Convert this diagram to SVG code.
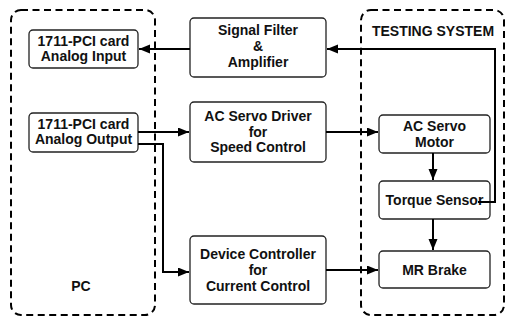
<svg xmlns="http://www.w3.org/2000/svg" width="506" height="320" viewBox="0 0 506 320">
  <defs>
    <marker id="arrow" markerUnits="userSpaceOnUse" markerWidth="12" markerHeight="10" refX="11" refY="4.5" orient="auto">
      <path d="M0,0 L11,4.5 L0,9 z" fill="#000"/>
    </marker>
    <style>
      .frame { fill: none; stroke: #000; stroke-width: 2; stroke-dasharray: 7 4.5; }
      .box { fill: #fff; stroke: #222; stroke-width: 1.3; }
      .lbl { font-family: "Liberation Sans", Arial, sans-serif; font-weight: bold; font-size: 14px; fill: #111; text-anchor: middle; }
      .wire { fill: none; stroke: #000; stroke-width: 2; }
    </style>
  </defs>
  <rect width="506" height="320" fill="#fff"/>

  <!-- subsystem frames -->
  <g id="pc">
    <rect class="frame" x="11" y="10" width="144" height="305" rx="10"/>
    <text class="lbl" x="81" y="291">PC</text>
  </g>
  <g id="testing-system">
    <rect class="frame" x="361" y="10" width="143" height="305" rx="10"/>
    <text class="lbl" x="433" y="36">TESTING SYSTEM</text>
  </g>

  <!-- PC side -->
  <g id="analog-input">
    <rect class="box" x="29" y="30" width="109" height="38" rx="4"/>
    <text class="lbl" x="83.5" y="46">1711-PCI card</text>
    <text class="lbl" x="83.5" y="61">Analog Input</text>
  </g>
  <g id="analog-output">
    <rect class="box" x="29" y="113" width="109" height="39" rx="4"/>
    <text class="lbl" x="83.5" y="129">1711-PCI card</text>
    <text class="lbl" x="83.5" y="144">Analog Output</text>
  </g>

  <!-- middle column -->
  <g id="signal-filter">
    <rect class="box" x="190" y="18" width="136" height="59" rx="4"/>
    <text class="lbl" x="258" y="35">Signal Filter</text>
    <text class="lbl" x="258" y="51">&amp;</text>
    <text class="lbl" x="258" y="67">Amplifier</text>
  </g>
  <g id="servo-driver">
    <rect class="box" x="190" y="102" width="136" height="60" rx="4"/>
    <text class="lbl" x="258" y="121">AC Servo Driver</text>
    <text class="lbl" x="258" y="137">for</text>
    <text class="lbl" x="258" y="152">Speed Control</text>
  </g>
  <g id="device-controller">
    <rect class="box" x="190" y="236" width="136" height="68" rx="4"/>
    <text class="lbl" x="258" y="259">Device Controller</text>
    <text class="lbl" x="258" y="275">for</text>
    <text class="lbl" x="258" y="291">Current Control</text>
  </g>

  <!-- testing system -->
  <g id="servo-motor">
    <rect class="box" x="379" y="115" width="111" height="38" rx="4"/>
    <text class="lbl" x="434.5" y="131">AC Servo</text>
    <text class="lbl" x="434.5" y="147">Motor</text>
  </g>
  <g id="torque-sensor">
    <rect class="box" x="379" y="181" width="111" height="38" rx="4"/>
    <text class="lbl" x="434.5" y="205">Torque Sensor</text>
  </g>
  <g id="mr-brake">
    <rect class="box" x="379" y="251" width="111" height="37" rx="4"/>
    <text class="lbl" x="434.5" y="275">MR Brake</text>
  </g>

  <!-- connectors, drawn last so the feedback tap shows over the sensor box -->
  <g id="connectors">
    <line class="wire" x1="190" y1="49" x2="139" y2="49" marker-end="url(#arrow)"/>
    <polyline class="wire" points="478,202 495,202 495,49 327,49" marker-end="url(#arrow)"/>
    <line class="wire" x1="138" y1="132" x2="189" y2="132" marker-end="url(#arrow)"/>
    <polyline class="wire" points="138,144 163,144 163,272 189,272" marker-end="url(#arrow)"/>
    <line class="wire" x1="326" y1="132" x2="378" y2="132" marker-end="url(#arrow)"/>
    <line class="wire" x1="326" y1="270" x2="378" y2="270" marker-end="url(#arrow)"/>
    <line class="wire" x1="433" y1="153" x2="433" y2="180" marker-end="url(#arrow)"/>
    <line class="wire" x1="433" y1="219" x2="433" y2="250" marker-end="url(#arrow)"/>
  </g>
</svg>
